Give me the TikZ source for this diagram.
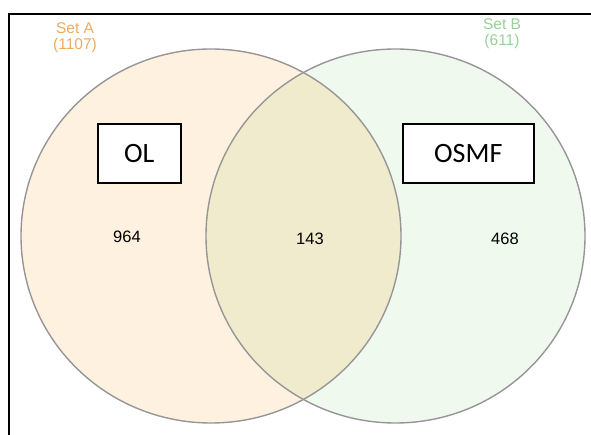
\documentclass[tikz,border=0pt]{standalone}
\usepackage{fontspec}
\setmainfont{Liberation Sans}
\newfontfamily\calib{Carlito}
\definecolor{fillA}{RGB}{254,241,223}
\definecolor{fillB}{RGB}{239,249,238}
\definecolor{fillAB}{RGB}{241,235,205}
\definecolor{ringc}{RGB}{150,150,150}
\definecolor{labA}{RGB}{236,170,95}
\definecolor{labB}{RGB}{150,210,150}
\tikzset{
  setlabel/.style={font=\fontsize{15.5}{16}\selectfont, align=center, inner sep=0pt},
  countlabel/.style={font=\fontsize{16.5}{17}\selectfont, inner sep=0pt},
  namebox/.style={draw=black, line width=1.6pt, fill=white, font=\calib\fontsize{28}{29}\selectfont, inner sep=0pt, anchor=north west},
  ring/.style={draw=ringc, line width=1.4pt}
}
\begin{document}
\begin{tikzpicture}[x=1pt,y=-1pt]
\useasboundingbox (0,0) rectangle (591,435);
% frame
\draw[line width=1.8pt] (9,435) -- (9,14) -- (591,14);
% fills
\fill[fillA] (211,236) ellipse [x radius=190, y radius=187];
\fill[fillB] (395.5,236) ellipse [x radius=189.5, y radius=187];
\begin{scope}
  \clip (211,236) ellipse [x radius=190, y radius=187];
  \fill[fillAB] (395.5,236) ellipse [x radius=189.5, y radius=187];
\end{scope}
% outlines
\draw[ring] (211,236) ellipse [x radius=190, y radius=187];
\draw[ring] (395.5,236) ellipse [x radius=189.5, y radius=187];
% set labels
\node[setlabel, text=labA] (la) at (75,38) {Set A\\(1107)};
\node[setlabel, text=labB] (lb) at (502,34) {Set B\\(611)};
% boxes
\node[namebox, minimum width=83pt, minimum height=59pt] (ol) at (97,123) {OL};
\node[namebox, minimum width=131pt, minimum height=59pt] (osmf) at (402,123) {OSMF};
% counts
\node[countlabel] (a) at (127,237) {964};
\node[countlabel] (ab) at (310,239) {143};
\node[countlabel] (b) at (505,239) {468};
\end{tikzpicture}
\end{document}
